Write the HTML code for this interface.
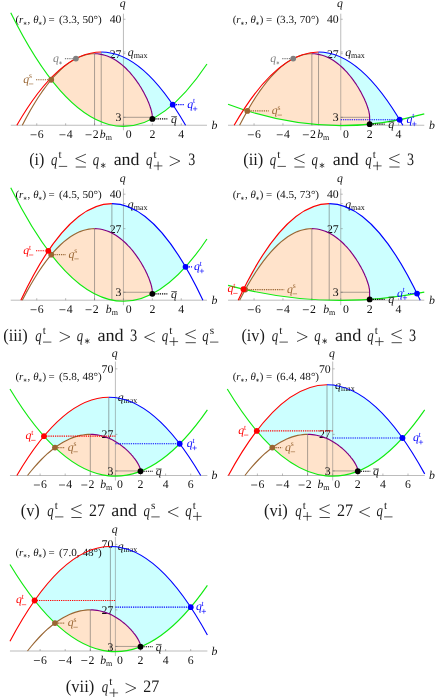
<!DOCTYPE html>
<html><head><meta charset="utf-8"><title>fig</title>
<style>html,body{margin:0;padding:0;background:#fff;overflow:hidden}svg{position:absolute;left:0;top:0;display:block;will-change:transform;font-family:"Liberation Serif",serif;text-rendering:geometricPrecision;fill:#111}path{fill:none}</style></head>
<body><svg width="436" height="697" viewBox="0 0 436 697">
<rect width="436" height="697" fill="#fff"/>
<path d="M51.2 79.7L54.7 75.7L58.2 72.1L61.6 68.8L64.9 66L68.2 63.4L71.4 61.2L74.5 59.3L77.6 57.7L80.6 56.4L83.6 55.4L86.5 54.6L89.3 54.1L92.1 53.8L94.8 53.7L97.4 53.8L100 54.1L102.5 54.6L105 55.3L107.4 56.1L109.7 57.1L112 58.1L114.2 59.4L116.4 60.7L118.5 62.1L120.5 63.6L122.4 65.2L124.3 66.9L126.2 68.7L127.9 70.5L129.7 72.3L131.3 74.2L132.9 76.1L134.4 78L135.9 80L137.3 82L138.6 83.9L139.9 85.9L141.1 87.8L142.3 89.8L143.4 91.7L144.4 93.6L145.3 95.5L146.2 97.3L147.1 99.1L147.9 100.8L148.6 102.5L149.2 104.2L149.8 105.8L150.4 107.3L150.8 108.8L151.2 110.2L151.6 111.5L151.9 112.8L152.1 114L152.2 115.2L152.3 116.3L152.3 117.3L152.35 118.88L152.35 118.88Q101.79 145 51.22 79.73Z" style="fill:#ffe3cb"/>
<path d="M75.91 58.59Q124.32 33.36 172.74 104.64L172.74 104.64Q162.54 113.62 152.35 118.88L152.35 117.3L152.3 117.3L152.3 116.3L152.2 115.2L152.1 114L151.8 112.8L151.6 111.5L151.2 110.1L150.8 108.6L150.3 107.1L149.8 105.6L149.2 104L148.5 102.3L147.8 100.6L147 98.8L146.1 97L145.2 95.1L144.2 93.3L143.1 91.3L142 89.4L140.9 87.4L139.6 85.4L138.3 83.5L136.9 81.5L135.5 79.5L134 77.5L132.5 75.6L130.8 73.6L129.1 71.7L127.4 69.9L125.6 68.1L123.7 66.3L121.8 64.7L119.7 63.1L117.7 61.6L115.5 60.2L113.3 58.9L111.1 57.7L108.8 56.6L106.4 55.7L103.9 55L101.4 54.4L98.8 54L96.2 53.7L93.5 53.7L90.7 53.9L87.9 54.3L85 55L82 55.9L79 57.1L75.9 58.6Z" style="fill:#ccffff"/>
<path d="M10.74 125.25H206.97M123.45 13.69V130.25M36.75 125.25v-2M65.65 125.25v-2M94.55 125.25v-2M123.45 125.25v-2M152.35 125.25v-2M181.25 125.25v-2M123.45 19.25h2M123.45 53.7h2M123.45 117.3h2M123.45 51.99h2" stroke="#6a6a6a" stroke-width="0.45"/>
<path d="M94.55 125.25V53.7M101.22 125.25V51.99M123.45 117.3H152.35" stroke="#555" stroke-width="0.5"/>
<path d="M30.55 134.75H36.55" stroke="#111" stroke-width="0.7"/><text x="37.75" y="137.85" font-size="11.8">6</text>
<path d="M59.45 134.75H65.45" stroke="#111" stroke-width="0.7"/><text x="66.65" y="137.85" font-size="11.8">4</text>
<path d="M85.55 134.75H91.55" stroke="#111" stroke-width="0.7"/><text x="92.75" y="137.85" font-size="11.8">2</text>
<text x="125.75" y="137.85" font-size="11.8">0</text>
<text x="152.35" y="137.85" font-size="11.8" text-anchor="middle">2</text>
<text x="181.25" y="137.85" font-size="11.8" text-anchor="middle">4</text>
<text x="121.45" y="23.35" font-size="11.8" text-anchor="end">40</text>
<text x="121.45" y="57.8" font-size="11.8" text-anchor="end">27</text>
<text x="121.45" y="121.4" font-size="11.8" text-anchor="end">3</text>
<text x="99.85" y="137.85" font-size="11.8" font-style="italic">b</text><text x="105.65" y="140.05" font-size="8">m</text>
<text x="127.85" y="55.99" font-size="11.8" font-style="italic">q</text><text x="133.65" y="57.99" font-size="8">max</text>
<text x="122.75" y="7" font-size="11.8" font-style="italic" text-anchor="middle">q</text>
<text x="211.6" y="128.85" font-size="11.8" font-style="italic">b</text>
<text x="15.5" y="23.2" font-size="10.9">(</text><text x="19" y="23.2" font-size="10.9" font-style="italic">r</text><path d="M25.1 21.8L25.1 25M23.71 22.6L26.49 24.2M23.71 24.2L26.49 22.6" stroke="#111" stroke-width="0.5"/><text x="27.6" y="23.2" font-size="10.9">,</text><text x="33.3" y="23.2" font-size="10.9" font-style="italic">θ</text><path d="M40.2 21.8L40.2 25M38.81 22.6L41.59 24.2M38.81 24.2L41.59 22.6" stroke="#111" stroke-width="0.5"/><text x="42.4" y="23.2" font-size="10.9">)</text><text x="48.6" y="23.2" font-size="10.9">=</text><text x="59.1" y="23.2" font-size="10.9" textLength="42.7" lengthAdjust="spacingAndGlyphs">(3.3, 50°)</text>
<path d="M10.74 12.83Q108.86 210.46 206.97 64.01" stroke="#10ea10" stroke-width="1.15" stroke-linejoin="round"/>
<path d="M94.6 53.7L91.8 53.8L88.9 54.2L86 54.7L83 55.6L80 56.7L76.9 58.1L73.7 59.8L70.4 61.9L67.1 64.2L63.7 66.9L60.3 70L56.8 73.5L53.2 77.4L49.6 81.7L45.9 86.5L42.1 91.7L38.3 97.3L34.4 103.5L30.4 110.2L26.4 117.5L22.3 125.2" stroke="#996633" stroke-width="1.15" stroke-linejoin="round"/>
<path d="M94.6 53.7L97.2 53.8L99.8 54.1L102.3 54.6L104.8 55.2L107.2 56L109.6 57L111.8 58.1L114.1 59.3L116.2 60.6L118.3 62L120.3 63.5L122.3 65.1L124.2 66.8L126.1 68.5L127.8 70.3L129.6 72.2L131.2 74.1L132.8 76L134.3 77.9L135.8 79.9L137.2 81.9L138.6 83.8L139.8 85.8L141.1 87.8L142.2 89.7L143.3 91.6L144.3 93.5L145.3 95.4L146.2 97.2L147.1 99L147.8 100.8L148.6 102.5L149.2 104.1L149.8 105.7L150.3 107.3L150.8 108.7L151.2 110.2L151.6 111.5L151.8 112.8L152.1 114L152.2 115.2L152.3 116.3L152.3 117.3L152.35 118.88" stroke="#800080" stroke-width="1.15" stroke-linejoin="round"/>
<path d="M16.85 125.25Q59.04 51.99 101.22 51.99" stroke="#ff0000" stroke-width="1.15" stroke-linejoin="round"/>
<path d="M101.22 51.99Q143.4 51.99 185.58 125.25" stroke="#0000ff" stroke-width="1.15" stroke-linejoin="round"/>
<path d="M247.3 110.9L251.2 104.3L255 98.3L258.7 92.7L262.4 87.5L266 82.8L269.5 78.5L273 74.7L276.4 71.2L279.8 68L283.1 65.3L286.3 62.8L289.5 60.7L292.6 58.9L295.7 57.4L298.7 56.2L301.6 55.2L304.4 54.5L307.2 54L310 53.7L312.7 53.7L315.3 53.9L317.8 54.2L320.3 54.7L322.8 55.4L325.2 56.3L327.5 57.2L329.7 58.4L331.9 59.6L334 60.9L336.1 62.4L338.1 63.9L340 65.5L341.9 67.2L343.7 68.9L345.5 70.7L347.2 72.6L348.8 74.4L350.4 76.3L351.9 78.3L353.3 80.2L354.7 82.2L356.1 84.1L357.3 86.1L358.5 88L359.7 90L360.7 91.9L361.8 93.7L362.7 95.6L363.6 97.4L364.4 99.2L365.2 100.9L365.9 102.6L366.6 104.2L367.2 105.8L367.7 107.3L368.1 108.8L368.5 110.2L368.9 111.6L369.2 112.8L369.4 114.1L369.5 115.2L369.6 116.3L369.6 117.3L369.65 124.16L369.65 124.16Q308.5 130.1 247.34 110.89Z" style="fill:#ffe3cb"/>
<path d="M293.21 58.59Q346.43 30.86 399.64 119.73L399.64 119.73Q384.65 122.7 369.65 124.16L369.65 117.3L369.6 117.3L369.6 116.3L369.5 115.2L369.4 114L369.1 112.8L368.9 111.5L368.5 110.1L368.1 108.6L367.6 107.1L367.1 105.6L366.5 104L365.8 102.3L365.1 100.6L364.3 98.8L363.4 97L362.5 95.1L361.5 93.3L360.4 91.3L359.3 89.4L358.2 87.4L356.9 85.4L355.6 83.5L354.2 81.5L352.8 79.5L351.3 77.5L349.8 75.6L348.1 73.6L346.4 71.7L344.7 69.9L342.9 68.1L341 66.3L339.1 64.7L337 63.1L335 61.6L332.8 60.2L330.6 58.9L328.4 57.7L326.1 56.6L323.7 55.7L321.2 55L318.7 54.4L316.1 54L313.5 53.7L310.8 53.7L308 53.9L305.2 54.3L302.3 55L299.3 55.9L296.3 57.1L293.2 58.6Z" style="fill:#ccffff"/>
<path d="M228.04 125.25H424.27M340.75 13.69V130.25M254.05 125.25v-2M282.95 125.25v-2M311.85 125.25v-2M340.75 125.25v-2M369.65 125.25v-2M398.55 125.25v-2M340.75 19.25h2M340.75 53.7h2M340.75 117.3h2M340.75 51.99h2" stroke="#6a6a6a" stroke-width="0.45"/>
<path d="M311.85 125.25V53.7M318.52 125.25V51.99M340.75 117.3H369.65" stroke="#555" stroke-width="0.5"/>
<path d="M247.85 134.75H253.85" stroke="#111" stroke-width="0.7"/><text x="255.05" y="137.85" font-size="11.8">6</text>
<path d="M276.75 134.75H282.75" stroke="#111" stroke-width="0.7"/><text x="283.95" y="137.85" font-size="11.8">4</text>
<path d="M302.85 134.75H308.85" stroke="#111" stroke-width="0.7"/><text x="310.05" y="137.85" font-size="11.8">2</text>
<text x="343.05" y="137.85" font-size="11.8">0</text>
<text x="369.65" y="137.85" font-size="11.8" text-anchor="middle">2</text>
<text x="398.55" y="137.85" font-size="11.8" text-anchor="middle">4</text>
<text x="338.75" y="23.35" font-size="11.8" text-anchor="end">40</text>
<text x="338.75" y="57.8" font-size="11.8" text-anchor="end">27</text>
<text x="338.75" y="121.4" font-size="11.8" text-anchor="end">3</text>
<text x="317.15" y="137.85" font-size="11.8" font-style="italic">b</text><text x="322.95" y="140.05" font-size="8">m</text>
<text x="345.15" y="55.99" font-size="11.8" font-style="italic">q</text><text x="350.95" y="57.99" font-size="8">max</text>
<text x="340.05" y="7" font-size="11.8" font-style="italic" text-anchor="middle">q</text>
<text x="428.9" y="128.85" font-size="11.8" font-style="italic">b</text>
<text x="232.8" y="23.2" font-size="10.9">(</text><text x="236.3" y="23.2" font-size="10.9" font-style="italic">r</text><path d="M242.4 21.8L242.4 25M241.01 22.6L243.79 24.2M241.01 24.2L243.79 22.6" stroke="#111" stroke-width="0.5"/><text x="244.9" y="23.2" font-size="10.9">,</text><text x="250.6" y="23.2" font-size="10.9" font-style="italic">θ</text><path d="M257.5 21.8L257.5 25M256.11 22.6L258.89 24.2M256.11 24.2L258.89 22.6" stroke="#111" stroke-width="0.5"/><text x="259.7" y="23.2" font-size="10.9">)</text><text x="265.9" y="23.2" font-size="10.9">=</text><text x="276.4" y="23.2" font-size="10.9" textLength="42.7" lengthAdjust="spacingAndGlyphs">(3.3, 70°)</text>
<path d="M228.04 104.2Q326.16 141.39 424.27 113.83" stroke="#10ea10" stroke-width="1.15" stroke-linejoin="round"/>
<path d="M311.9 53.7L309.1 53.8L306.2 54.2L303.3 54.7L300.3 55.6L297.3 56.7L294.2 58.1L291 59.8L287.7 61.9L284.4 64.2L281 66.9L277.6 70L274.1 73.5L270.5 77.4L266.9 81.7L263.2 86.5L259.4 91.7L255.6 97.3L251.7 103.5L247.7 110.2L243.7 117.5L239.6 125.2" stroke="#996633" stroke-width="1.15" stroke-linejoin="round"/>
<path d="M311.9 53.7L314.5 53.8L317.1 54.1L319.6 54.6L322.1 55.2L324.5 56L326.9 57L329.1 58.1L331.4 59.3L333.5 60.6L335.6 62L337.6 63.5L339.6 65.1L341.5 66.8L343.4 68.5L345.1 70.3L346.9 72.2L348.5 74.1L350.1 76L351.6 77.9L353.1 79.9L354.5 81.9L355.9 83.8L357.1 85.8L358.4 87.8L359.5 89.7L360.6 91.6L361.6 93.5L362.6 95.4L363.5 97.2L364.4 99L365.1 100.8L365.9 102.5L366.5 104.1L367.1 105.7L367.6 107.3L368.1 108.7L368.5 110.2L368.9 111.5L369.1 112.8L369.4 114L369.5 115.2L369.6 116.3L369.6 117.3L369.65 124.16" stroke="#800080" stroke-width="1.15" stroke-linejoin="round"/>
<path d="M234.15 125.25Q276.34 51.99 318.52 51.99" stroke="#ff0000" stroke-width="1.15" stroke-linejoin="round"/>
<path d="M318.52 51.99Q360.7 51.99 402.88 125.25" stroke="#0000ff" stroke-width="1.15" stroke-linejoin="round"/>
<path d="M51.2 254.7L54.7 250.7L58.2 247L61.6 243.8L64.9 240.9L68.2 238.4L71.4 236.2L74.5 234.3L77.6 232.7L80.6 231.4L83.6 230.3L86.5 229.6L89.3 229L92.1 228.7L94.8 228.7L97.4 228.8L100 229.1L102.5 229.6L105 230.2L107.4 231L109.7 232L112 233.1L114.2 234.3L116.4 235.6L118.5 237.1L120.5 238.6L122.4 240.2L124.3 241.9L126.2 243.6L127.9 245.4L129.7 247.3L131.3 249.1L132.9 251L134.4 253L135.9 254.9L137.3 256.9L138.6 258.9L139.9 260.8L141.1 262.8L142.3 264.7L143.4 266.7L144.4 268.5L145.3 270.4L146.2 272.2L147.1 274L147.9 275.8L148.6 277.5L149.2 279.1L149.8 280.7L150.4 282.2L150.8 283.7L151.2 285.1L151.6 286.5L151.9 287.8L152.1 289L152.2 290.1L152.3 291.2L152.3 292.2L152.35 293.83L152.35 293.83Q101.79 319.95 51.22 254.68Z" style="fill:#ffe3cb"/>
<path d="M48.27 250.79Q116.91 148.99 185.55 266.84L185.55 266.84Q168.95 285.26 152.35 293.83L152.35 292.25L152.3 292.2L152.3 291.2L152.2 290.1L152.1 289L151.9 287.8L151.6 286.5L151.2 285.1L150.8 283.7L150.4 282.2L149.8 280.7L149.2 279.1L148.6 277.5L147.9 275.8L147.1 274L146.2 272.2L145.3 270.4L144.4 268.5L143.4 266.7L142.3 264.7L141.1 262.8L139.9 260.8L138.6 258.9L137.3 256.9L135.9 254.9L134.4 253L132.9 251L131.3 249.1L129.7 247.3L127.9 245.4L126.2 243.6L124.3 241.9L122.4 240.2L120.5 238.6L118.5 237.1L116.4 235.6L114.2 234.3L112 233.1L109.7 232L107.4 231L105 230.2L102.5 229.6L100 229.1L97.4 228.8L94.8 228.7L92.1 228.7L89.3 229L86.5 229.6L83.6 230.3L80.6 231.4L77.6 232.7L74.5 234.3L71.4 236.2L68.2 238.4L64.9 240.9L61.6 243.8L58.2 247L54.7 250.7L51.2 254.7L51.22 254.68Q49.75 252.77 48.27 250.79Z" style="fill:#ccffff"/>
<path d="M10.74 300.2H206.97M123.45 188.63V305.2M36.75 300.2v-2M65.65 300.2v-2M94.55 300.2v-2M123.45 300.2v-2M152.35 300.2v-2M181.25 300.2v-2M123.45 194.2h2M123.45 228.65h2M123.45 292.25h2M123.45 203.61h2" stroke="#6a6a6a" stroke-width="0.45"/>
<path d="M94.55 300.2V228.65M111.89 300.2V203.61M123.45 292.25H152.35" stroke="#555" stroke-width="0.5"/>
<path d="M30.55 309.7H36.55" stroke="#111" stroke-width="0.7"/><text x="37.75" y="312.8" font-size="11.8">6</text>
<path d="M59.45 309.7H65.45" stroke="#111" stroke-width="0.7"/><text x="66.65" y="312.8" font-size="11.8">4</text>
<path d="M85.55 309.7H91.55" stroke="#111" stroke-width="0.7"/><text x="92.75" y="312.8" font-size="11.8">2</text>
<text x="125.75" y="312.8" font-size="11.8">0</text>
<text x="152.35" y="312.8" font-size="11.8" text-anchor="middle">2</text>
<text x="181.25" y="312.8" font-size="11.8" text-anchor="middle">4</text>
<text x="121.45" y="198.3" font-size="11.8" text-anchor="end">40</text>
<text x="121.45" y="232.75" font-size="11.8" text-anchor="end">27</text>
<text x="121.45" y="296.35" font-size="11.8" text-anchor="end">3</text>
<text x="105.85" y="312.8" font-size="11.8" font-style="italic">b</text><text x="111.65" y="315" font-size="8">m</text>
<text x="127.85" y="207.61" font-size="11.8" font-style="italic">q</text><text x="133.65" y="209.61" font-size="8">max</text>
<text x="122.75" y="181.95" font-size="11.8" font-style="italic" text-anchor="middle">q</text>
<text x="211.6" y="303.8" font-size="11.8" font-style="italic">b</text>
<text x="15.5" y="198.15" font-size="10.9">(</text><text x="19" y="198.15" font-size="10.9" font-style="italic">r</text><path d="M25.1 196.75L25.1 199.95M23.71 197.55L26.49 199.15M23.71 199.15L26.49 197.55" stroke="#111" stroke-width="0.5"/><text x="27.6" y="198.15" font-size="10.9">,</text><text x="33.3" y="198.15" font-size="10.9" font-style="italic">θ</text><path d="M40.2 196.75L40.2 199.95M38.81 197.55L41.59 199.15M38.81 199.15L41.59 197.55" stroke="#111" stroke-width="0.5"/><text x="42.4" y="198.15" font-size="10.9">)</text><text x="48.6" y="198.15" font-size="10.9">=</text><text x="59.1" y="198.15" font-size="10.9" textLength="42.7" lengthAdjust="spacingAndGlyphs">(4.5, 50°)</text>
<path d="M10.74 187.78Q108.86 385.41 206.97 238.96" stroke="#10ea10" stroke-width="1.15" stroke-linejoin="round"/>
<path d="M94.6 228.6L91.8 228.8L88.9 229.1L86 229.7L83 230.5L80 231.6L76.9 233.1L73.7 234.8L70.4 236.8L67.1 239.2L63.7 241.9L60.3 245L56.8 248.5L53.2 252.3L49.6 256.7L45.9 261.4L42.1 266.6L38.3 272.3L34.4 278.5L30.4 285.2L26.4 292.4L22.3 300.2" stroke="#996633" stroke-width="1.15" stroke-linejoin="round"/>
<path d="M94.6 228.6L97.2 228.8L99.8 229L102.3 229.5L104.8 230.2L107.2 231L109.6 231.9L111.8 233L114.1 234.2L116.2 235.5L118.3 237L120.3 238.5L122.3 240.1L124.2 241.8L126.1 243.5L127.8 245.3L129.6 247.1L131.2 249L132.8 250.9L134.3 252.9L135.8 254.8L137.2 256.8L138.6 258.8L139.8 260.8L141.1 262.7L142.2 264.7L143.3 266.6L144.3 268.5L145.3 270.3L146.2 272.2L147.1 274L147.8 275.7L148.6 277.4L149.2 279.1L149.8 280.7L150.3 282.2L150.8 283.7L151.2 285.1L151.6 286.5L151.8 287.8L152.1 289L152.2 290.1L152.3 291.2L152.3 292.2L152.35 293.83" stroke="#800080" stroke-width="1.15" stroke-linejoin="round"/>
<path d="M20.86 300.2Q66.37 203.61 111.89 203.61" stroke="#ff0000" stroke-width="1.15" stroke-linejoin="round"/>
<path d="M111.89 203.61Q157.41 203.61 202.92 300.2" stroke="#0000ff" stroke-width="1.15" stroke-linejoin="round"/>
<path d="M245.2 289.6L249.1 282.7L253 276.3L256.8 270.5L260.5 265L264.2 260.1L267.8 255.5L271.3 251.4L274.8 247.7L278.2 244.4L281.6 241.4L284.9 238.8L288.1 236.5L291.3 234.6L294.4 232.9L297.4 231.6L300.4 230.5L303.3 229.7L306.2 229.1L309 228.8L311.7 228.7L314.4 228.7L317 229L319.5 229.5L322 230.1L324.4 230.9L326.7 231.9L329 232.9L331.2 234.2L333.4 235.5L335.5 236.9L337.5 238.4L339.5 240L341.4 241.7L343.3 243.4L345.1 245.2L346.8 247.1L348.5 249L350.1 250.9L351.6 252.8L353.1 254.8L354.5 256.8L355.8 258.7L357.1 260.7L358.3 262.7L359.5 264.6L360.6 266.5L361.6 268.4L362.6 270.3L363.5 272.1L364.4 273.9L365.1 275.7L365.9 277.4L366.5 279.1L367.1 280.7L367.6 282.2L368.1 283.7L368.5 285.1L368.9 286.5L369.1 287.8L369.4 289L369.5 290.1L369.6 291.2L369.6 292.2L369.65 299.44L369.65 299.44Q307.44 303.7 245.23 289.6Z" style="fill:#ffe3cb"/>
<path d="M243.49 289.21Q330.26 115.88 417.02 293.53L417.02 293.53Q393.34 297.81 369.65 299.44L369.65 292.25L369.6 292.2L369.6 291.2L369.5 290.1L369.4 289L369.1 287.8L368.9 286.5L368.5 285.1L368.1 283.7L367.6 282.2L367.1 280.7L366.5 279.1L365.9 277.4L365.1 275.7L364.4 273.9L363.5 272.1L362.6 270.3L361.6 268.4L360.6 266.5L359.5 264.6L358.3 262.7L357.1 260.7L355.8 258.7L354.5 256.8L353.1 254.8L351.6 252.8L350.1 250.9L348.5 249L346.8 247.1L345.1 245.2L343.3 243.4L341.4 241.7L339.5 240L337.5 238.4L335.5 236.9L333.4 235.5L331.2 234.2L329 232.9L326.7 231.9L324.4 230.9L322 230.1L319.5 229.5L317 229L314.4 228.7L311.7 228.7L309 228.8L306.2 229.1L303.3 229.7L300.4 230.5L297.4 231.6L294.4 232.9L291.3 234.6L288.1 236.5L284.9 238.8L281.6 241.4L278.2 244.4L274.8 247.7L271.3 251.4L267.8 255.5L264.2 260.1L260.5 265L256.8 270.5L253 276.3L249.1 282.7L245.2 289.6L245.23 289.6Q244.36 289.41 243.49 289.21Z" style="fill:#ccffff"/>
<path d="M228.04 300.2H424.27M340.75 188.63V305.2M254.05 300.2v-2M282.95 300.2v-2M311.85 300.2v-2M340.75 300.2v-2M369.65 300.2v-2M398.55 300.2v-2M340.75 194.2h2M340.75 228.65h2M340.75 292.25h2M340.75 203.61h2" stroke="#6a6a6a" stroke-width="0.45"/>
<path d="M311.85 300.2V228.65M329.19 300.2V203.61M340.75 292.25H369.65" stroke="#555" stroke-width="0.5"/>
<path d="M247.85 309.7H253.85" stroke="#111" stroke-width="0.7"/><text x="255.05" y="312.8" font-size="11.8">6</text>
<path d="M276.75 309.7H282.75" stroke="#111" stroke-width="0.7"/><text x="283.95" y="312.8" font-size="11.8">4</text>
<path d="M302.85 309.7H308.85" stroke="#111" stroke-width="0.7"/><text x="310.05" y="312.8" font-size="11.8">2</text>
<text x="343.05" y="312.8" font-size="11.8">0</text>
<text x="369.65" y="312.8" font-size="11.8" text-anchor="middle">2</text>
<text x="398.55" y="312.8" font-size="11.8" text-anchor="middle">4</text>
<text x="338.75" y="198.3" font-size="11.8" text-anchor="end">40</text>
<text x="338.75" y="232.75" font-size="11.8" text-anchor="end">27</text>
<text x="338.75" y="296.35" font-size="11.8" text-anchor="end">3</text>
<text x="323.15" y="312.8" font-size="11.8" font-style="italic">b</text><text x="328.95" y="315" font-size="8">m</text>
<text x="345.15" y="207.61" font-size="11.8" font-style="italic">q</text><text x="350.95" y="209.61" font-size="8">max</text>
<text x="340.05" y="181.95" font-size="11.8" font-style="italic" text-anchor="middle">q</text>
<text x="428.9" y="303.8" font-size="11.8" font-style="italic">b</text>
<text x="232.8" y="198.15" font-size="10.9">(</text><text x="236.3" y="198.15" font-size="10.9" font-style="italic">r</text><path d="M242.4 196.75L242.4 199.95M241.01 197.55L243.79 199.15M241.01 199.15L243.79 197.55" stroke="#111" stroke-width="0.5"/><text x="244.9" y="198.15" font-size="10.9">,</text><text x="250.6" y="198.15" font-size="10.9" font-style="italic">θ</text><path d="M257.5 196.75L257.5 199.95M256.11 197.55L258.89 199.15M256.11 199.15L258.89 197.55" stroke="#111" stroke-width="0.5"/><text x="259.7" y="198.15" font-size="10.9">)</text><text x="265.9" y="198.15" font-size="10.9">=</text><text x="276.4" y="198.15" font-size="10.9" textLength="42.7" lengthAdjust="spacingAndGlyphs">(4.5, 73°)</text>
<path d="M228.04 285.36Q326.16 311.59 424.27 292.15" stroke="#10ea10" stroke-width="1.15" stroke-linejoin="round"/>
<path d="M311.9 228.6L309.1 228.8L306.2 229.1L303.3 229.7L300.3 230.5L297.3 231.6L294.2 233.1L291 234.8L287.7 236.8L284.4 239.2L281 241.9L277.6 245L274.1 248.5L270.5 252.3L266.9 256.7L263.2 261.4L259.4 266.6L255.6 272.3L251.7 278.5L247.7 285.2L243.7 292.4L239.6 300.2" stroke="#996633" stroke-width="1.15" stroke-linejoin="round"/>
<path d="M311.9 228.6L314.5 228.8L317.1 229L319.6 229.5L322.1 230.2L324.5 231L326.9 231.9L329.1 233L331.4 234.2L333.5 235.5L335.6 237L337.6 238.5L339.6 240.1L341.5 241.8L343.4 243.5L345.1 245.3L346.9 247.1L348.5 249L350.1 250.9L351.6 252.9L353.1 254.8L354.5 256.8L355.9 258.8L357.1 260.8L358.4 262.7L359.5 264.7L360.6 266.6L361.6 268.5L362.6 270.3L363.5 272.2L364.4 274L365.1 275.7L365.9 277.4L366.5 279.1L367.1 280.7L367.6 282.2L368.1 283.7L368.5 285.1L368.9 286.5L369.1 287.8L369.4 289L369.5 290.1L369.6 291.2L369.6 292.2L369.65 299.44" stroke="#800080" stroke-width="1.15" stroke-linejoin="round"/>
<path d="M238.16 300.2Q283.67 203.61 329.19 203.61" stroke="#ff0000" stroke-width="1.15" stroke-linejoin="round"/>
<path d="M329.19 203.61Q374.71 203.61 420.22 300.2" stroke="#0000ff" stroke-width="1.15" stroke-linejoin="round"/>
<path d="M55 447.6L58 445.4L61 443.5L63.9 441.8L66.8 440.3L69.6 439L72.3 437.8L75 436.9L77.7 436.1L80.3 435.4L82.8 435L85.3 434.6L87.7 434.4L90.1 434.4L92.4 434.4L94.7 434.6L96.9 434.8L99 435.2L101.1 435.7L103.2 436.2L105.2 436.8L107.1 437.5L109 438.3L110.8 439.1L112.6 440L114.3 440.9L116 441.8L117.6 442.8L119.1 443.9L120.6 444.9L122.1 446L123.5 447.1L124.8 448.2L126.1 449.4L127.3 450.5L128.5 451.6L129.6 452.8L130.7 453.9L131.7 455L132.6 456.1L133.5 457.2L134.4 458.3L135.2 459.4L135.9 460.4L136.6 461.4L137.2 462.4L137.8 463.3L138.3 464.3L138.8 465.1L139.2 466L139.5 466.8L139.8 467.6L140.1 468.3L140.3 469L140.4 469.7L140.5 470.3L140.5 470.9L140.5 471.24L140.5 471.24Q97.74 488.07 54.99 447.56Z" style="fill:#ffe3cb"/>
<path d="M43.97 436.16Q111.82 354.74 179.68 443.77L179.68 443.77Q160.09 463.53 140.5 471.24L140.5 470.93L140.5 470.9L140.5 470.3L140.4 469.7L140.3 469L140.1 468.3L139.8 467.6L139.5 466.8L139.2 466L138.8 465.1L138.3 464.3L137.8 463.3L137.2 462.4L136.6 461.4L135.9 460.4L135.2 459.4L134.4 458.3L133.5 457.2L132.6 456.1L131.7 455L130.7 453.9L129.6 452.8L128.5 451.6L127.3 450.5L126.1 449.4L124.8 448.2L123.5 447.1L122.1 446L120.6 444.9L119.1 443.9L117.6 442.8L116 441.8L114.3 440.9L112.6 440L110.8 439.1L109 438.3L107.1 437.5L105.2 436.8L103.2 436.2L101.1 435.7L99 435.2L96.9 434.8L94.7 434.6L92.4 434.4L90.1 434.4L87.7 434.4L85.3 434.6L82.8 435L80.3 435.4L77.7 436.1L75 436.9L72.3 437.8L69.6 439L66.8 440.3L63.9 441.8L61 443.5L58 445.4L55 447.6L54.99 447.56Q49.48 442.34 43.97 436.16Z" style="fill:#ccffff"/>
<path d="M9.98 475.5H207.39M115.4 361.53V480.5M40.1 475.5v-2M65.2 475.5v-2M90.3 475.5v-2M115.4 475.5v-2M140.5 475.5v-2M165.6 475.5v-2M190.7 475.5v-2M115.4 368.85h2M115.4 434.36h2M115.4 470.93h2M115.4 397.27h2" stroke="#6a6a6a" stroke-width="0.45"/>
<path d="M90.3 475.5V434.36M108.79 475.5V397.27M115.4 470.93H140.5" stroke="#555" stroke-width="0.5"/>
<path d="M33.9 485H39.9" stroke="#111" stroke-width="0.7"/><text x="41.1" y="488.1" font-size="11.8">6</text>
<path d="M59 485H65" stroke="#111" stroke-width="0.7"/><text x="66.2" y="488.1" font-size="11.8">4</text>
<path d="M81.3 485H87.3" stroke="#111" stroke-width="0.7"/><text x="88.5" y="488.1" font-size="11.8">2</text>
<text x="116.9" y="488.1" font-size="11.8">0</text>
<text x="140.5" y="488.1" font-size="11.8" text-anchor="middle">2</text>
<text x="165.6" y="488.1" font-size="11.8" text-anchor="middle">4</text>
<text x="190.7" y="488.1" font-size="11.8" text-anchor="middle">6</text>
<text x="113.4" y="372.95" font-size="11.8" text-anchor="end">70</text>
<text x="113.4" y="438.46" font-size="11.8" text-anchor="end">27</text>
<text x="113.4" y="475.03" font-size="11.8" text-anchor="end">3</text>
<text x="100.2" y="488.1" font-size="11.8" font-style="italic">b</text><text x="106" y="490.3" font-size="8">m</text>
<text x="117.8" y="401.27" font-size="11.8" font-style="italic">q</text><text x="123.6" y="403.27" font-size="8">max</text>
<text x="114.7" y="357.2" font-size="11.8" font-style="italic" text-anchor="middle">q</text>
<text x="211.6" y="479.1" font-size="11.8" font-style="italic">b</text>
<text x="15.5" y="380" font-size="10.9">(</text><text x="19" y="380" font-size="10.9" font-style="italic">r</text><path d="M25.1 378.6L25.1 381.8M23.71 379.4L26.49 381M23.71 381L26.49 379.4" stroke="#111" stroke-width="0.5"/><text x="27.6" y="380" font-size="10.9">,</text><text x="33.3" y="380" font-size="10.9" font-style="italic">θ</text><path d="M40.2 378.6L40.2 381.8M38.81 379.4L41.59 381M38.81 381L41.59 379.4" stroke="#111" stroke-width="0.5"/><text x="42.4" y="380" font-size="10.9">)</text><text x="48.6" y="380" font-size="10.9">=</text><text x="59.1" y="380" font-size="10.9" textLength="42.7" lengthAdjust="spacingAndGlyphs">(5.8, 48°)</text>
<path d="M9.98 389.02Q108.69 552.24 207.39 409.81" stroke="#10ea10" stroke-width="1.15" stroke-linejoin="round"/>
<path d="M90.3 434.4L87.9 434.4L85.4 434.6L82.9 435L80.3 435.4L77.6 436.1L74.9 436.9L72.2 437.9L69.4 439L66.5 440.4L63.5 442L60.6 443.8L57.5 445.8L54.4 448L51.3 450.5L48 453.2L44.8 456.2L41.4 459.5L38.1 463L34.6 466.9L31.1 471L27.5 475.5" stroke="#996633" stroke-width="1.15" stroke-linejoin="round"/>
<path d="M90.3 434.4L92.6 434.4L94.9 434.6L97.1 434.9L99.2 435.2L101.3 435.7L103.3 436.2L105.3 436.9L107.2 437.6L109.1 438.3L110.9 439.1L112.7 440L114.4 440.9L116.1 441.9L117.7 442.9L119.2 443.9L120.7 445L122.1 446.1L123.5 447.2L124.9 448.3L126.1 449.4L127.4 450.6L128.5 451.7L129.6 452.8L130.7 453.9L131.7 455.1L132.7 456.2L133.5 457.3L134.4 458.3L135.2 459.4L135.9 460.4L136.6 461.4L137.2 462.4L137.8 463.4L138.3 464.3L138.8 465.2L139.2 466L139.5 466.8L139.8 467.6L140.1 468.3L140.3 469.1L140.4 469.7L140.5 470.3L140.5 470.9L140.5 471.24" stroke="#800080" stroke-width="1.15" stroke-linejoin="round"/>
<path d="M16.85 475.5Q62.82 397.27 108.79 397.27" stroke="#ff0000" stroke-width="1.15" stroke-linejoin="round"/>
<path d="M108.79 397.27Q154.77 397.27 200.74 475.5" stroke="#0000ff" stroke-width="1.15" stroke-linejoin="round"/>
<path d="M272.3 447.6L275.3 445.4L278.3 443.5L281.2 441.8L284.1 440.3L286.9 439L289.6 437.8L292.3 436.9L295 436.1L297.6 435.4L300.1 435L302.6 434.6L305 434.4L307.4 434.4L309.7 434.4L312 434.6L314.2 434.8L316.3 435.2L318.4 435.7L320.5 436.2L322.5 436.8L324.4 437.5L326.3 438.3L328.1 439.1L329.9 440L331.6 440.9L333.3 441.8L334.9 442.8L336.4 443.9L337.9 444.9L339.4 446L340.8 447.1L342.1 448.2L343.4 449.4L344.6 450.5L345.8 451.6L346.9 452.8L348 453.9L349 455L349.9 456.1L350.8 457.2L351.7 458.3L352.5 459.4L353.2 460.4L353.9 461.4L354.5 462.4L355.1 463.3L355.6 464.3L356.1 465.1L356.5 466L356.8 466.8L357.1 467.6L357.4 468.3L357.6 469L357.7 469.7L357.8 470.3L357.8 470.9L357.8 471.24L357.8 471.24Q315.04 488.07 272.29 447.56Z" style="fill:#ffe3cb"/>
<path d="M256.7 430.89Q329.6 335.15 402.5 437.98L402.5 437.98Q380.15 462.44 357.8 471.24L357.8 470.93L357.8 470.9L357.8 470.3L357.7 469.7L357.6 469L357.4 468.3L357.1 467.6L356.8 466.8L356.5 466L356.1 465.1L355.6 464.3L355.1 463.3L354.5 462.4L353.9 461.4L353.2 460.4L352.5 459.4L351.7 458.3L350.8 457.2L349.9 456.1L349 455L348 453.9L346.9 452.8L345.8 451.6L344.6 450.5L343.4 449.4L342.1 448.2L340.8 447.1L339.4 446L337.9 444.9L336.4 443.9L334.9 442.8L333.3 441.8L331.6 440.9L329.9 440L328.1 439.1L326.3 438.3L324.4 437.5L322.5 436.8L320.5 436.2L318.4 435.7L316.3 435.2L314.2 434.8L312 434.6L309.7 434.4L307.4 434.4L305 434.4L302.6 434.6L300.1 435L297.6 435.4L295 436.1L292.3 436.9L289.6 437.8L286.9 439L284.1 440.3L281.2 441.8L278.3 443.5L275.3 445.4L272.3 447.6L272.29 447.56Q264.5 440.18 256.7 430.89Z" style="fill:#ccffff"/>
<path d="M227.28 475.5H424.69M332.7 361.53V480.5M257.4 475.5v-2M282.5 475.5v-2M307.6 475.5v-2M332.7 475.5v-2M357.8 475.5v-2M382.9 475.5v-2M408 475.5v-2M332.7 368.85h2M332.7 434.36h2M332.7 470.93h2M332.7 384.73h2" stroke="#6a6a6a" stroke-width="0.45"/>
<path d="M307.6 475.5V434.36M327 475.5V384.73M332.7 470.93H357.8" stroke="#555" stroke-width="0.5"/>
<path d="M251.2 485H257.2" stroke="#111" stroke-width="0.7"/><text x="258.4" y="488.1" font-size="11.8">6</text>
<path d="M276.3 485H282.3" stroke="#111" stroke-width="0.7"/><text x="283.5" y="488.1" font-size="11.8">4</text>
<path d="M298.6 485H304.6" stroke="#111" stroke-width="0.7"/><text x="305.8" y="488.1" font-size="11.8">2</text>
<text x="334.2" y="488.1" font-size="11.8">0</text>
<text x="357.8" y="488.1" font-size="11.8" text-anchor="middle">2</text>
<text x="382.9" y="488.1" font-size="11.8" text-anchor="middle">4</text>
<text x="408" y="488.1" font-size="11.8" text-anchor="middle">6</text>
<text x="330.7" y="372.95" font-size="11.8" text-anchor="end">70</text>
<text x="330.7" y="438.46" font-size="11.8" text-anchor="end">27</text>
<text x="330.7" y="475.03" font-size="11.8" text-anchor="end">3</text>
<text x="317.5" y="488.1" font-size="11.8" font-style="italic">b</text><text x="323.3" y="490.3" font-size="8">m</text>
<text x="335.1" y="388.73" font-size="11.8" font-style="italic">q</text><text x="340.9" y="390.73" font-size="8">max</text>
<text x="332" y="357.2" font-size="11.8" font-style="italic" text-anchor="middle">q</text>
<text x="428.9" y="479.1" font-size="11.8" font-style="italic">b</text>
<text x="232.8" y="380" font-size="10.9">(</text><text x="236.3" y="380" font-size="10.9" font-style="italic">r</text><path d="M242.4 378.6L242.4 381.8M241.01 379.4L243.79 381M241.01 381L243.79 379.4" stroke="#111" stroke-width="0.5"/><text x="244.9" y="380" font-size="10.9">,</text><text x="250.6" y="380" font-size="10.9" font-style="italic">θ</text><path d="M257.5 378.6L257.5 381.8M256.11 379.4L258.89 381M256.11 381L258.89 379.4" stroke="#111" stroke-width="0.5"/><text x="259.7" y="380" font-size="10.9">)</text><text x="265.9" y="380" font-size="10.9">=</text><text x="276.4" y="380" font-size="10.9" textLength="42.7" lengthAdjust="spacingAndGlyphs">(6.4, 48°)</text>
<path d="M227.28 389.02Q325.99 552.24 424.69 409.81" stroke="#10ea10" stroke-width="1.15" stroke-linejoin="round"/>
<path d="M307.6 434.4L305.2 434.4L302.7 434.6L300.2 435L297.6 435.4L294.9 436.1L292.2 436.9L289.5 437.9L286.7 439L283.8 440.4L280.8 442L277.9 443.8L274.8 445.8L271.7 448L268.6 450.5L265.3 453.2L262.1 456.2L258.7 459.5L255.4 463L251.9 466.9L248.4 471L244.9 475.5" stroke="#996633" stroke-width="1.15" stroke-linejoin="round"/>
<path d="M307.6 434.4L309.9 434.4L312.2 434.6L314.4 434.9L316.5 435.2L318.6 435.7L320.6 436.2L322.6 436.9L324.5 437.6L326.4 438.3L328.2 439.1L330 440L331.7 440.9L333.4 441.9L335 442.9L336.5 443.9L338 445L339.4 446.1L340.8 447.2L342.2 448.3L343.4 449.4L344.7 450.6L345.8 451.7L346.9 452.8L348 453.9L349 455.1L350 456.2L350.8 457.3L351.7 458.3L352.5 459.4L353.2 460.4L353.9 461.4L354.5 462.4L355.1 463.4L355.6 464.3L356.1 465.2L356.5 466L356.8 466.8L357.1 467.6L357.4 468.3L357.6 469.1L357.7 469.7L357.8 470.3L357.8 470.9L357.8 471.24" stroke="#800080" stroke-width="1.15" stroke-linejoin="round"/>
<path d="M228.42 475.5Q277.71 384.73 327 384.73" stroke="#ff0000" stroke-width="1.15" stroke-linejoin="round"/>
<path d="M327 384.73Q375.84 384.73 424.69 473.89" stroke="#0000ff" stroke-width="1.15" stroke-linejoin="round"/>
<path d="M55 623.1L58 620.9L61 619L63.9 617.3L66.8 615.8L69.6 614.5L72.3 613.3L75 612.4L77.7 611.6L80.3 610.9L82.8 610.5L85.3 610.1L87.7 609.9L90.1 609.9L92.4 609.9L94.7 610.1L96.9 610.3L99 610.7L101.1 611.2L103.2 611.7L105.2 612.3L107.1 613L109 613.8L110.8 614.6L112.6 615.5L114.3 616.4L116 617.3L117.6 618.3L119.1 619.4L120.6 620.4L122.1 621.5L123.5 622.6L124.8 623.7L126.1 624.9L127.3 626L128.5 627.1L129.6 628.3L130.7 629.4L131.7 630.5L132.6 631.6L133.5 632.7L134.4 633.8L135.2 634.9L135.9 635.9L136.6 636.9L137.2 637.9L137.8 638.8L138.3 639.8L138.8 640.6L139.2 641.5L139.5 642.3L139.8 643.1L140.1 643.8L140.3 644.5L140.4 645.2L140.5 645.8L140.5 646.4L140.5 646.74L140.5 646.74Q97.74 663.57 54.99 623.06Z" style="fill:#ffe3cb"/>
<path d="M34.6 600.48Q112.66 489.22 190.72 607.19L190.72 607.19Q165.61 636.86 140.5 646.74L140.5 646.43L140.5 646.4L140.5 645.8L140.4 645.2L140.3 644.5L140.1 643.8L139.8 643.1L139.5 642.3L139.2 641.5L138.8 640.6L138.3 639.8L137.8 638.8L137.2 637.9L136.6 636.9L135.9 635.9L135.2 634.9L134.4 633.8L133.5 632.7L132.6 631.6L131.7 630.5L130.7 629.4L129.6 628.3L128.5 627.1L127.3 626L126.1 624.9L124.8 623.7L123.5 622.6L122.1 621.5L120.6 620.4L119.1 619.4L117.6 618.3L116 617.3L114.3 616.4L112.6 615.5L110.8 614.6L109 613.8L107.1 613L105.2 612.3L103.2 611.7L101.1 611.2L99 610.7L96.9 610.3L94.7 610.1L92.4 609.9L90.1 609.9L87.7 609.9L85.3 610.1L82.8 610.5L80.3 610.9L77.7 611.6L75 612.4L72.3 613.3L69.6 614.5L66.8 615.8L63.9 617.3L61 619L58 620.9L55 623.1L54.99 623.06Q44.8 613.4 34.6 600.48Z" style="fill:#ccffff"/>
<path d="M9.98 651H207.39M115.4 537.03V656M40.1 651v-2M65.2 651v-2M90.3 651v-2M115.4 651v-2M140.5 651v-2M165.6 651v-2M190.7 651v-2M115.4 544.35h2M115.4 609.86h2M115.4 646.43h2M115.4 546.48h2" stroke="#6a6a6a" stroke-width="0.45"/>
<path d="M90.3 651V609.86M110.38 651V546.48M115.4 646.43H140.5" stroke="#555" stroke-width="0.5"/>
<path d="M33.9 660.5H39.9" stroke="#111" stroke-width="0.7"/><text x="41.1" y="663.6" font-size="11.8">6</text>
<path d="M59 660.5H65" stroke="#111" stroke-width="0.7"/><text x="66.2" y="663.6" font-size="11.8">4</text>
<path d="M81.3 660.5H87.3" stroke="#111" stroke-width="0.7"/><text x="88.5" y="663.6" font-size="11.8">2</text>
<text x="116.9" y="663.6" font-size="11.8">0</text>
<text x="140.5" y="663.6" font-size="11.8" text-anchor="middle">2</text>
<text x="165.6" y="663.6" font-size="11.8" text-anchor="middle">4</text>
<text x="190.7" y="663.6" font-size="11.8" text-anchor="middle">6</text>
<text x="113.4" y="548.45" font-size="11.8" text-anchor="end">70</text>
<text x="113.4" y="613.96" font-size="11.8" text-anchor="end">27</text>
<text x="113.4" y="650.53" font-size="11.8" text-anchor="end">3</text>
<text x="100.2" y="663.6" font-size="11.8" font-style="italic">b</text><text x="106" y="665.8" font-size="8">m</text>
<text x="117.8" y="550.48" font-size="11.8" font-style="italic">q</text><text x="123.6" y="552.48" font-size="8">max</text>
<text x="114.7" y="532.7" font-size="11.8" font-style="italic" text-anchor="middle">q</text>
<text x="211.6" y="654.6" font-size="11.8" font-style="italic">b</text>
<text x="15.5" y="555.5" font-size="10.9">(</text><text x="19" y="555.5" font-size="10.9" font-style="italic">r</text><path d="M25.1 554.1L25.1 557.3M23.71 554.9L26.49 556.5M23.71 556.5L26.49 554.9" stroke="#111" stroke-width="0.5"/><text x="27.6" y="555.5" font-size="10.9">,</text><text x="33.3" y="555.5" font-size="10.9" font-style="italic">θ</text><path d="M40.2 554.1L40.2 557.3M38.81 554.9L41.59 556.5M38.81 556.5L41.59 554.9" stroke="#111" stroke-width="0.5"/><text x="42.4" y="555.5" font-size="10.9">)</text><text x="48.6" y="555.5" font-size="10.9">=</text><text x="59.1" y="555.5" font-size="10.9" textLength="42.7" lengthAdjust="spacingAndGlyphs">(7.0, 48°)</text>
<path d="M9.98 564.52Q108.69 727.74 207.39 585.31" stroke="#10ea10" stroke-width="1.15" stroke-linejoin="round"/>
<path d="M90.3 609.9L87.9 609.9L85.4 610.1L82.9 610.5L80.3 610.9L77.6 611.6L74.9 612.4L72.2 613.4L69.4 614.5L66.5 615.9L63.5 617.5L60.6 619.3L57.5 621.3L54.4 623.5L51.3 626L48 628.7L44.8 631.7L41.4 635L38.1 638.5L34.6 642.4L31.1 646.5L27.5 651" stroke="#996633" stroke-width="1.15" stroke-linejoin="round"/>
<path d="M90.3 609.9L92.6 609.9L94.9 610.1L97.1 610.4L99.2 610.7L101.3 611.2L103.3 611.7L105.3 612.4L107.2 613.1L109.1 613.8L110.9 614.6L112.7 615.5L114.4 616.4L116.1 617.4L117.7 618.4L119.2 619.4L120.7 620.5L122.1 621.6L123.5 622.7L124.9 623.8L126.1 624.9L127.4 626.1L128.5 627.2L129.6 628.3L130.7 629.4L131.7 630.6L132.7 631.7L133.5 632.8L134.4 633.8L135.2 634.9L135.9 635.9L136.6 636.9L137.2 637.9L137.8 638.9L138.3 639.8L138.8 640.7L139.2 641.5L139.5 642.3L139.8 643.1L140.1 643.8L140.3 644.6L140.4 645.2L140.5 645.8L140.5 646.4L140.5 646.74" stroke="#800080" stroke-width="1.15" stroke-linejoin="round"/>
<path d="M9.98 641.28Q60.18 546.48 110.38 546.48" stroke="#ff0000" stroke-width="1.15" stroke-linejoin="round"/>
<path d="M110.38 546.48Q158.89 546.48 207.39 634.99" stroke="#0000ff" stroke-width="1.15" stroke-linejoin="round"/>
<path d="M155.35 118.88H167.35" stroke="#000" stroke-width="1.15" stroke-dasharray="1.25 0.95"/>
<text x="171.05" y="122.88" font-size="11.8" font-style="italic">q</text><path d="M171.25 116.58h5.8" stroke="#111" stroke-width="0.6"/>
<path d="M64.91 58.59H72.71" stroke="#808080" stroke-width="1.15" stroke-dasharray="1.25 0.95"/><text x="52.91" y="61.59" font-size="11.8" font-style="italic" fill="#808080">q</text><path d="M60.51 61.39L60.51 64.39M59.21 62.14L61.81 63.64M59.21 63.64L61.81 62.14" stroke="#808080" stroke-width="0.6"/>
<path d="M36 79.73H48.22" stroke="#996633" stroke-width="1.15" stroke-dasharray="1.25 0.95"/><text x="23.2" y="82.73" font-size="11.8" font-style="italic" fill="#996633">q</text><text x="28.9" y="78.48" font-size="7.6" fill="#996633">s</text><path d="M28.9 83.93H33.3" stroke="#996633" stroke-width="0.6"/>
<path d="M175.94 104.64H184.74" stroke="#0000ff" stroke-width="1.15" stroke-dasharray="1.25 0.95"/><text x="187.24" y="107.64" font-size="11.8" font-style="italic" fill="#0000ff">q</text><text x="192.94" y="103.39" font-size="7.6" fill="#0000ff">t</text><path d="M192.94 108.84h4.4m-2.2 -2.2v4.4" stroke="#0000ff" stroke-width="0.6"/>
<circle cx="75.91" cy="58.59" r="2.9" fill="#808080"/>
<circle cx="51.22" cy="79.73" r="2.9" fill="#996633"/>
<circle cx="172.74" cy="104.64" r="2.9" fill="#0000ff"/>
<circle cx="152.35" cy="118.88" r="2.9" fill="#000"/>
<path d="M372.65 124.16H384.65" stroke="#000" stroke-width="1.15" stroke-dasharray="1.25 0.95"/>
<text x="388.35" y="128.16" font-size="11.8" font-style="italic">q</text><path d="M388.55 121.86h5.8" stroke="#111" stroke-width="0.6"/>
<path d="M282.21 58.59H290.01" stroke="#808080" stroke-width="1.15" stroke-dasharray="1.25 0.95"/><text x="270.21" y="61.59" font-size="11.8" font-style="italic" fill="#808080">q</text><path d="M277.81 61.39L277.81 64.39M276.51 62.14L279.11 63.64M276.51 63.64L279.11 62.14" stroke="#808080" stroke-width="0.6"/>
<path d="M250.54 110.89H268.84" stroke="#996633" stroke-width="1.15" stroke-dasharray="1.25 0.95"/><text x="271.84" y="113.89" font-size="11.8" font-style="italic" fill="#996633">q</text><text x="277.54" y="109.64" font-size="7.6" fill="#996633">s</text><path d="M277.54 115.09H281.94" stroke="#996633" stroke-width="0.6"/>
<path d="M340.75 119.73H399.64" stroke="#0000ff" stroke-width="1.15" stroke-dasharray="1.25 0.95"/><text x="406.44" y="122.73" font-size="11.8" font-style="italic" fill="#0000ff">q</text><text x="412.14" y="118.48" font-size="7.6" fill="#0000ff">t</text><path d="M412.14 123.93h4.4m-2.2 -2.2v4.4" stroke="#0000ff" stroke-width="0.6"/>
<circle cx="293.21" cy="58.59" r="2.9" fill="#808080"/>
<circle cx="247.34" cy="110.89" r="2.9" fill="#996633"/>
<circle cx="399.64" cy="119.73" r="2.9" fill="#0000ff"/>
<circle cx="369.65" cy="124.16" r="2.9" fill="#000"/>
<path d="M155.35 293.83H167.35" stroke="#000" stroke-width="1.15" stroke-dasharray="1.25 0.95"/>
<text x="171.05" y="297.83" font-size="11.8" font-style="italic">q</text><path d="M171.25 291.53h5.8" stroke="#111" stroke-width="0.6"/>
<path d="M36 250.79H45.27" stroke="#ff0000" stroke-width="1.15" stroke-dasharray="1.25 0.95"/><text x="23.2" y="253.79" font-size="11.8" font-style="italic" fill="#ff0000">q</text><text x="28.9" y="249.54" font-size="7.6" fill="#ff0000">t</text><path d="M28.9 254.99H33.3" stroke="#ff0000" stroke-width="0.6"/>
<path d="M54.42 254.68H65.92" stroke="#996633" stroke-width="1.15" stroke-dasharray="1.25 0.95"/><text x="68.62" y="257.68" font-size="11.8" font-style="italic" fill="#996633">q</text><text x="74.32" y="253.43" font-size="7.6" fill="#996633">s</text><path d="M74.32 258.88H78.72" stroke="#996633" stroke-width="0.6"/>
<path d="M188.75 266.84H192.05" stroke="#0000ff" stroke-width="1.15" stroke-dasharray="1.25 0.95"/><text x="193.95" y="269.84" font-size="11.8" font-style="italic" fill="#0000ff">q</text><text x="199.65" y="265.59" font-size="7.6" fill="#0000ff">t</text><path d="M199.65 271.04h4.4m-2.2 -2.2v4.4" stroke="#0000ff" stroke-width="0.6"/>
<circle cx="51.22" cy="254.68" r="2.9" fill="#996633"/>
<circle cx="48.27" cy="250.79" r="2.9" fill="#ff0000"/>
<circle cx="185.55" cy="266.84" r="2.9" fill="#0000ff"/>
<circle cx="152.35" cy="293.83" r="2.9" fill="#000"/>
<path d="M372.65 299.44H384.65" stroke="#000" stroke-width="1.15" stroke-dasharray="1.25 0.95"/>
<text x="388.35" y="303.44" font-size="11.8" font-style="italic">q</text><path d="M388.55 297.14h5.8" stroke="#111" stroke-width="0.6"/>
<text x="227.49" y="292.21" font-size="11.8" font-style="italic" fill="#ff0000">q</text><text x="233.19" y="287.96" font-size="7.6" fill="#ff0000">t</text><path d="M233.19 293.41H237.59" stroke="#ff0000" stroke-width="0.6"/>
<path d="M248.43 289.6H284.23" stroke="#996633" stroke-width="1.15" stroke-dasharray="1.25 0.95"/><text x="286.93" y="292.6" font-size="11.8" font-style="italic" fill="#996633">q</text><text x="292.63" y="288.35" font-size="7.6" fill="#996633">s</text><path d="M292.63 293.8H297.03" stroke="#996633" stroke-width="0.6"/>
<path d="M408.02 293.53H413.82" stroke="#0000ff" stroke-width="1.15" stroke-dasharray="1.25 0.95"/><text x="397.02" y="296.53" font-size="11.8" font-style="italic" fill="#0000ff">q</text><text x="402.72" y="292.28" font-size="7.6" fill="#0000ff">t</text><path d="M402.72 297.73h4.4m-2.2 -2.2v4.4" stroke="#0000ff" stroke-width="0.6"/>
<circle cx="245.23" cy="289.6" r="2.9" fill="#996633"/>
<circle cx="243.49" cy="289.21" r="2.9" fill="#ff0000"/>
<circle cx="417.02" cy="293.53" r="2.9" fill="#0000ff"/>
<circle cx="369.65" cy="299.44" r="2.9" fill="#000"/>
<path d="M143.5 471.24H153" stroke="#000" stroke-width="1.15" stroke-dasharray="1.25 0.95"/>
<text x="155.7" y="475.24" font-size="11.8" font-style="italic">q</text><path d="M155.9 468.94h5.8" stroke="#111" stroke-width="0.6"/>
<path d="M43.97 436.16H115.4" stroke="#ff0000" stroke-width="1.15" stroke-dasharray="1.25 0.95"/><text x="25.47" y="439.16" font-size="11.8" font-style="italic" fill="#ff0000">q</text><text x="31.17" y="434.91" font-size="7.6" fill="#ff0000">t</text><path d="M31.17 440.36H35.57" stroke="#ff0000" stroke-width="0.6"/>
<path d="M58.19 447.56H64.99" stroke="#996633" stroke-width="1.15" stroke-dasharray="1.25 0.95"/><text x="67.69" y="450.56" font-size="11.8" font-style="italic" fill="#996633">q</text><text x="73.39" y="446.31" font-size="7.6" fill="#996633">s</text><path d="M73.39 451.76H77.79" stroke="#996633" stroke-width="0.6"/>
<path d="M115.4 443.77H179.68" stroke="#0000ff" stroke-width="1.15" stroke-dasharray="1.25 0.95"/><text x="186.68" y="446.77" font-size="11.8" font-style="italic" fill="#0000ff">q</text><text x="192.38" y="442.52" font-size="7.6" fill="#0000ff">t</text><path d="M192.38 447.97h4.4m-2.2 -2.2v4.4" stroke="#0000ff" stroke-width="0.6"/>
<circle cx="54.99" cy="447.56" r="2.9" fill="#996633"/>
<circle cx="43.97" cy="436.16" r="2.9" fill="#ff0000"/>
<circle cx="179.68" cy="443.77" r="2.9" fill="#0000ff"/>
<circle cx="140.5" cy="471.24" r="2.9" fill="#000"/>
<path d="M360.8 471.24H370.3" stroke="#000" stroke-width="1.15" stroke-dasharray="1.25 0.95"/>
<text x="373" y="475.24" font-size="11.8" font-style="italic">q</text><path d="M373.2 468.94h5.8" stroke="#111" stroke-width="0.6"/>
<path d="M256.7 430.89H332.7" stroke="#ff0000" stroke-width="1.15" stroke-dasharray="1.25 0.95"/><text x="238.2" y="433.89" font-size="11.8" font-style="italic" fill="#ff0000">q</text><text x="243.9" y="429.64" font-size="7.6" fill="#ff0000">t</text><path d="M243.9 435.09H248.3" stroke="#ff0000" stroke-width="0.6"/>
<path d="M275.49 447.56H282.29" stroke="#996633" stroke-width="1.15" stroke-dasharray="1.25 0.95"/><text x="284.99" y="450.56" font-size="11.8" font-style="italic" fill="#996633">q</text><text x="290.69" y="446.31" font-size="7.6" fill="#996633">s</text><path d="M290.69 451.76H295.09" stroke="#996633" stroke-width="0.6"/>
<path d="M332.7 437.98H402.5" stroke="#0000ff" stroke-width="1.15" stroke-dasharray="1.25 0.95"/><text x="413" y="440.98" font-size="11.8" font-style="italic" fill="#0000ff">q</text><text x="418.7" y="436.73" font-size="7.6" fill="#0000ff">t</text><path d="M418.7 442.18h4.4m-2.2 -2.2v4.4" stroke="#0000ff" stroke-width="0.6"/>
<circle cx="272.29" cy="447.56" r="2.9" fill="#996633"/>
<circle cx="256.7" cy="430.89" r="2.9" fill="#ff0000"/>
<circle cx="402.5" cy="437.98" r="2.9" fill="#0000ff"/>
<circle cx="357.8" cy="471.24" r="2.9" fill="#000"/>
<path d="M143.5 646.74H153" stroke="#000" stroke-width="1.15" stroke-dasharray="1.25 0.95"/>
<text x="155.7" y="650.74" font-size="11.8" font-style="italic">q</text><path d="M155.9 644.44h5.8" stroke="#111" stroke-width="0.6"/>
<path d="M34.6 600.48H115.4" stroke="#ff0000" stroke-width="1.15" stroke-dasharray="1.25 0.95"/><text x="16.1" y="603.48" font-size="11.8" font-style="italic" fill="#ff0000">q</text><text x="21.8" y="599.24" font-size="7.6" fill="#ff0000">t</text><path d="M21.8 604.68H26.2" stroke="#ff0000" stroke-width="0.6"/>
<path d="M58.19 623.06H64.99" stroke="#996633" stroke-width="1.15" stroke-dasharray="1.25 0.95"/><text x="67.69" y="626.06" font-size="11.8" font-style="italic" fill="#996633">q</text><text x="73.39" y="621.81" font-size="7.6" fill="#996633">s</text><path d="M73.39 627.26H77.79" stroke="#996633" stroke-width="0.6"/>
<path d="M115.4 607.19H190.72" stroke="#0000ff" stroke-width="1.15" stroke-dasharray="1.25 0.95"/><text x="195.92" y="610.19" font-size="11.8" font-style="italic" fill="#0000ff">q</text><text x="201.62" y="605.94" font-size="7.6" fill="#0000ff">t</text><path d="M201.62 611.39h4.4m-2.2 -2.2v4.4" stroke="#0000ff" stroke-width="0.6"/>
<circle cx="54.99" cy="623.06" r="2.9" fill="#996633"/>
<circle cx="34.6" cy="600.48" r="2.9" fill="#ff0000"/>
<circle cx="190.72" cy="607.19" r="2.9" fill="#0000ff"/>
<circle cx="140.5" cy="646.74" r="2.9" fill="#000"/>
<text x="29.2" y="165" font-size="17.5" fill="#1a1a1a" textLength="15.1" lengthAdjust="spacingAndGlyphs">(i)</text>
<text x="51.1" y="165" font-size="16.4" fill="#1a1a1a" font-style="italic" textLength="6.4" lengthAdjust="spacingAndGlyphs">q</text><text x="58.6" y="158.4" font-size="11.3" fill="#1a1a1a">t</text><path d="M58.8 166.4h8.4" stroke="#1a1a1a" stroke-width="0.75"/>
<path d="M85.9 154.2l-10.2 4.4l10.2 4.4M75.7 167h10.2" stroke="#1a1a1a" stroke-width="0.8"/>
<text x="92.8" y="165" font-size="16.4" fill="#1a1a1a" font-style="italic" textLength="6.4" lengthAdjust="spacingAndGlyphs">q</text><path d="M103.2 162.8L103.2 168M100.95 164.1L105.45 166.7M100.95 166.7L105.45 164.1" stroke="#1a1a1a" stroke-width="0.75"/>
<text x="113.7" y="165" font-size="17.5" fill="#1a1a1a" textLength="25.8" lengthAdjust="spacingAndGlyphs">and</text>
<text x="146.1" y="165" font-size="16.4" fill="#1a1a1a" font-style="italic" textLength="6.4" lengthAdjust="spacingAndGlyphs">q</text><text x="153.6" y="158.4" font-size="11.3" fill="#1a1a1a">t</text><path d="M153.8 165.9h8.6m-4.3 -4.3v8.6" stroke="#1a1a1a" stroke-width="0.75"/>
<path d="M169.7 156.4l10.2 4.7l-10.2 4.7" stroke="#1a1a1a" stroke-width="0.8"/>
<text x="188.3" y="165" font-size="17.5" fill="#1a1a1a" textLength="7" lengthAdjust="spacingAndGlyphs">3</text>
<text x="243.2" y="165" font-size="17.5" fill="#1a1a1a" textLength="20.1" lengthAdjust="spacingAndGlyphs">(ii)</text>
<text x="269.8" y="165" font-size="16.4" fill="#1a1a1a" font-style="italic" textLength="6.4" lengthAdjust="spacingAndGlyphs">q</text><text x="277.3" y="158.4" font-size="11.3" fill="#1a1a1a">t</text><path d="M277.5 166.4h8.4" stroke="#1a1a1a" stroke-width="0.75"/>
<path d="M304.6 154.2l-10.2 4.4l10.2 4.4M294.4 167h10.2" stroke="#1a1a1a" stroke-width="0.8"/>
<text x="311.6" y="165" font-size="16.4" fill="#1a1a1a" font-style="italic" textLength="6.4" lengthAdjust="spacingAndGlyphs">q</text><path d="M322 162.8L322 168M319.75 164.1L324.25 166.7M319.75 166.7L324.25 164.1" stroke="#1a1a1a" stroke-width="0.75"/>
<text x="332.7" y="165" font-size="17.5" fill="#1a1a1a" textLength="26" lengthAdjust="spacingAndGlyphs">and</text>
<text x="365.3" y="165" font-size="16.4" fill="#1a1a1a" font-style="italic" textLength="6.4" lengthAdjust="spacingAndGlyphs">q</text><text x="372.8" y="158.4" font-size="11.3" fill="#1a1a1a">t</text><path d="M373 165.9h8.6m-4.3 -4.3v8.6" stroke="#1a1a1a" stroke-width="0.75"/>
<path d="M399.6 154.2l-10.2 4.4l10.2 4.4M389.4 167h10.2" stroke="#1a1a1a" stroke-width="0.8"/>
<text x="407.1" y="165" font-size="17.5" fill="#1a1a1a" textLength="7" lengthAdjust="spacingAndGlyphs">3</text>
<text x="3.3" y="340.7" font-size="17.5" fill="#1a1a1a" textLength="24.5" lengthAdjust="spacingAndGlyphs">(iii)</text>
<text x="35.3" y="340.7" font-size="16.4" fill="#1a1a1a" font-style="italic" textLength="6.4" lengthAdjust="spacingAndGlyphs">q</text><text x="42.8" y="334.1" font-size="11.3" fill="#1a1a1a">t</text><path d="M43 342.1h8.4" stroke="#1a1a1a" stroke-width="0.75"/>
<path d="M59.7 332.1l10.2 4.7l-10.2 4.7" stroke="#1a1a1a" stroke-width="0.8"/>
<text x="76.8" y="340.7" font-size="16.4" fill="#1a1a1a" font-style="italic" textLength="6.4" lengthAdjust="spacingAndGlyphs">q</text><path d="M87.2 338.5L87.2 343.7M84.95 339.8L89.45 342.4M84.95 342.4L89.45 339.8" stroke="#1a1a1a" stroke-width="0.75"/>
<text x="97.4" y="340.7" font-size="17.5" fill="#1a1a1a" textLength="26.3" lengthAdjust="spacingAndGlyphs">and</text>
<text x="130.1" y="340.7" font-size="17.5" fill="#1a1a1a" textLength="7.2" lengthAdjust="spacingAndGlyphs">3</text>
<path d="M154.8 332.5l-10.2 4.7l10.2 4.7" stroke="#1a1a1a" stroke-width="0.8"/>
<text x="161.8" y="340.7" font-size="16.4" fill="#1a1a1a" font-style="italic" textLength="6.4" lengthAdjust="spacingAndGlyphs">q</text><text x="169.3" y="334.1" font-size="11.3" fill="#1a1a1a">t</text><path d="M169.5 341.6h8.6m-4.3 -4.3v8.6" stroke="#1a1a1a" stroke-width="0.75"/>
<path d="M195.8 329.9l-10.2 4.4l10.2 4.4M185.6 342.7h10.2" stroke="#1a1a1a" stroke-width="0.8"/>
<text x="202.3" y="340.7" font-size="16.4" fill="#1a1a1a" font-style="italic" textLength="6.4" lengthAdjust="spacingAndGlyphs">q</text><text x="209.8" y="334.1" font-size="11.3" fill="#1a1a1a">s</text><path d="M210 342.1h8.4" stroke="#1a1a1a" stroke-width="0.75"/>
<text x="241.5" y="340.7" font-size="17.5" fill="#1a1a1a" textLength="23.3" lengthAdjust="spacingAndGlyphs">(iv)</text>
<text x="271.8" y="340.7" font-size="16.4" fill="#1a1a1a" font-style="italic" textLength="6.4" lengthAdjust="spacingAndGlyphs">q</text><text x="279.3" y="334.1" font-size="11.3" fill="#1a1a1a">t</text><path d="M279.5 342.1h8.4" stroke="#1a1a1a" stroke-width="0.75"/>
<path d="M297 332.1l10.2 4.7l-10.2 4.7" stroke="#1a1a1a" stroke-width="0.8"/>
<text x="314.3" y="340.7" font-size="16.4" fill="#1a1a1a" font-style="italic" textLength="6.4" lengthAdjust="spacingAndGlyphs">q</text><path d="M324.7 338.5L324.7 343.7M322.45 339.8L326.95 342.4M322.45 342.4L326.95 339.8" stroke="#1a1a1a" stroke-width="0.75"/>
<text x="334.9" y="340.7" font-size="17.5" fill="#1a1a1a" textLength="26.4" lengthAdjust="spacingAndGlyphs">and</text>
<text x="367.3" y="340.7" font-size="16.4" fill="#1a1a1a" font-style="italic" textLength="6.4" lengthAdjust="spacingAndGlyphs">q</text><text x="374.8" y="334.1" font-size="11.3" fill="#1a1a1a">t</text><path d="M375 341.6h8.6m-4.3 -4.3v8.6" stroke="#1a1a1a" stroke-width="0.75"/>
<path d="M401.8 329.9l-10.2 4.4l10.2 4.4M391.6 342.7h10.2" stroke="#1a1a1a" stroke-width="0.8"/>
<text x="409.1" y="340.7" font-size="17.5" fill="#1a1a1a" textLength="7.1" lengthAdjust="spacingAndGlyphs">3</text>
<text x="20.8" y="515.5" font-size="17.5" fill="#1a1a1a" textLength="19" lengthAdjust="spacingAndGlyphs">(v)</text>
<text x="47.3" y="515.5" font-size="16.4" fill="#1a1a1a" font-style="italic" textLength="6.4" lengthAdjust="spacingAndGlyphs">q</text><text x="54.8" y="508.9" font-size="11.3" fill="#1a1a1a">t</text><path d="M55 516.9h8.4" stroke="#1a1a1a" stroke-width="0.75"/>
<path d="M81.6 504.7l-10.2 4.4l10.2 4.4M71.4 517.5h10.2" stroke="#1a1a1a" stroke-width="0.8"/>
<text x="89.1" y="515.5" font-size="17.5" fill="#1a1a1a" textLength="15.9" lengthAdjust="spacingAndGlyphs">27</text>
<text x="111.2" y="515.5" font-size="17.5" fill="#1a1a1a" textLength="25.9" lengthAdjust="spacingAndGlyphs">and</text>
<text x="143.6" y="515.5" font-size="16.4" fill="#1a1a1a" font-style="italic" textLength="6.4" lengthAdjust="spacingAndGlyphs">q</text><text x="151.1" y="508.9" font-size="11.3" fill="#1a1a1a">s</text><path d="M151.3 516.9h8.4" stroke="#1a1a1a" stroke-width="0.75"/>
<path d="M178.4 507.3l-10.2 4.7l10.2 4.7" stroke="#1a1a1a" stroke-width="0.8"/>
<text x="185.3" y="515.5" font-size="16.4" fill="#1a1a1a" font-style="italic" textLength="6.4" lengthAdjust="spacingAndGlyphs">q</text><text x="192.8" y="508.9" font-size="11.3" fill="#1a1a1a">t</text><path d="M193 516.4h8.6m-4.3 -4.3v8.6" stroke="#1a1a1a" stroke-width="0.75"/>
<text x="264" y="515.5" font-size="17.5" fill="#1a1a1a" textLength="23.8" lengthAdjust="spacingAndGlyphs">(vi)</text>
<text x="295.3" y="515.5" font-size="16.4" fill="#1a1a1a" font-style="italic" textLength="6.4" lengthAdjust="spacingAndGlyphs">q</text><text x="302.8" y="508.9" font-size="11.3" fill="#1a1a1a">t</text><path d="M303 516.4h8.6m-4.3 -4.3v8.6" stroke="#1a1a1a" stroke-width="0.75"/>
<path d="M329.8 504.7l-10.2 4.4l10.2 4.4M319.6 517.5h10.2" stroke="#1a1a1a" stroke-width="0.8"/>
<text x="336.9" y="515.5" font-size="17.5" fill="#1a1a1a" textLength="16.1" lengthAdjust="spacingAndGlyphs">27</text>
<path d="M369.8 507.3l-10.2 4.7l10.2 4.7" stroke="#1a1a1a" stroke-width="0.8"/>
<text x="376.4" y="515.5" font-size="16.4" fill="#1a1a1a" font-style="italic" textLength="6.4" lengthAdjust="spacingAndGlyphs">q</text><text x="383.9" y="508.9" font-size="11.3" fill="#1a1a1a">t</text><path d="M384.1 516.9h8.4" stroke="#1a1a1a" stroke-width="0.75"/>
<text x="65.8" y="692" font-size="17.5" fill="#1a1a1a" textLength="28.5" lengthAdjust="spacingAndGlyphs">(vii)</text>
<text x="101.8" y="692" font-size="16.4" fill="#1a1a1a" font-style="italic" textLength="6.4" lengthAdjust="spacingAndGlyphs">q</text><text x="109.3" y="685.4" font-size="11.3" fill="#1a1a1a">t</text><path d="M109.5 692.9h8.6m-4.3 -4.3v8.6" stroke="#1a1a1a" stroke-width="0.75"/>
<path d="M125.6 683.4l10.2 4.7l-10.2 4.7" stroke="#1a1a1a" stroke-width="0.8"/>
<text x="143.3" y="692" font-size="17.5" fill="#1a1a1a" textLength="16" lengthAdjust="spacingAndGlyphs">27</text>
</svg></body></html>
